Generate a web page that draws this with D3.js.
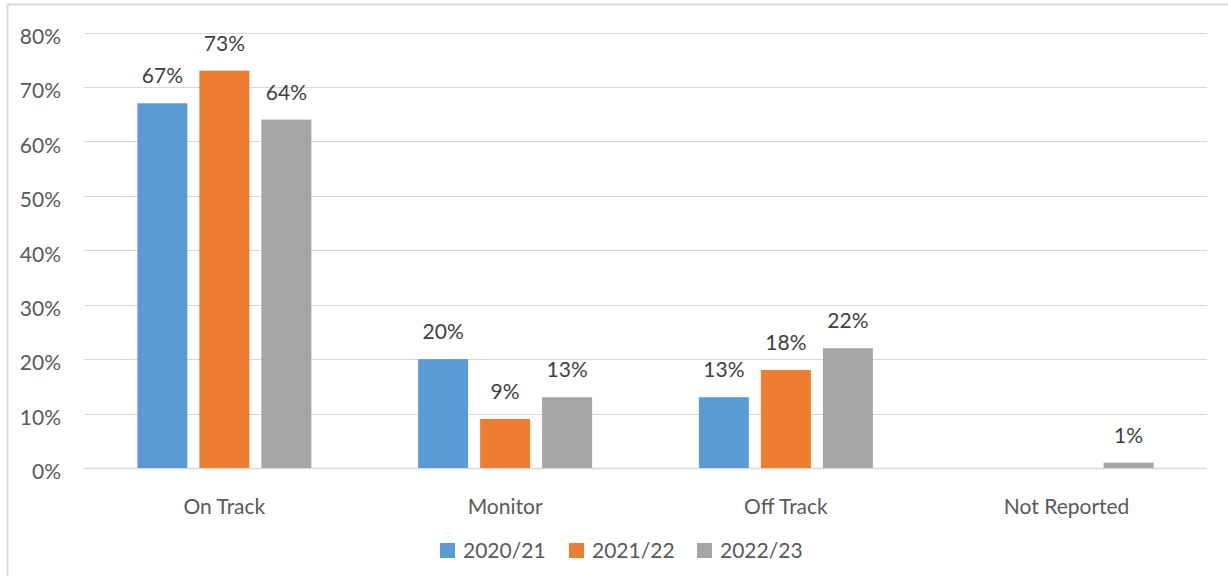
<!DOCTYPE html>
<html>
<head>
<meta charset="utf-8">
<script src="https://cdn.jsdelivr.net/npm/d3@7"></script>
<style>
  body { margin: 0; background: #fff; }
  svg { display: block; font-family: Lato, "Open Sans", sans-serif; }
</style>
</head>
<body>
<svg class="chart"></svg>
<script>
// data
var categories = ["On Track", "Monitor", "Off Track", "Not Reported"];
var seriesNames = ["2020/21", "2021/22", "2022/23"];
var values2020 = [67, 20, 13, 0];
var values2021 = [73, 9, 18, 0];
var values2022 = [64, 13, 22, 1];
var yTicks = [0, 10, 20, 30, 40, 50, 60, 70, 80];
var colors = ["#5B9BD5", "#ED7D31", "#A5A5A5"];

function show() {
    'use strict';
    var width = 1228, height = 576;
    var fontSize = "21px";
    var series = [values2020, values2021, values2022];

    var svg = d3.select(".chart")
        .attr("width", width)
        .attr("height", height);

    // chart border
    svg.append("rect")
        .attr("x", 7.5).attr("y", 4.5)
        .attr("width", width + 20).attr("height", height + 20)
        .attr("fill", "none").attr("stroke", "#d9d9d9").attr("stroke-width", 2);

    var plot = {left: 84, right: 1207, top: 32.5, bottom: 468};

    var y = d3.scaleLinear().domain([0, 80]).range([plot.bottom, plot.top]);
    var x0 = d3.scaleBand().domain(categories).range([plot.left, plot.right]);
    var groupW = 174;
    var x1 = d3.scaleBand().domain(seriesNames)
        .range([(x0.bandwidth() - groupW) / 2, (x0.bandwidth() + groupW) / 2])
        .paddingInner(12 / 62);

    // gridlines
    svg.append("g").selectAll("line").data(yTicks).enter()
        .append("line")
        .attr("x1", plot.left).attr("x2", plot.right)
        .attr("y1", function(d) { return Math.round(y(d)) + 0.5; })
        .attr("y2", function(d) { return Math.round(y(d)) + 0.5; })
        .attr("stroke", "#d9d9d9").attr("stroke-width", function(d) { return d === 0 ? 1.5 : 1.2; });

    // y tick labels
    svg.append("g").selectAll("text").data(yTicks).enter()
        .append("text")
        .attr("x", 61)
        .attr("y", function(d) { return y(d) + 4; })
        .attr("dy", "0.35em")
        .attr("text-anchor", "end")
        .attr("fill", "#595959")
        .attr("font-size", fontSize)
        .text(function(d) { return d + "%"; });

    // bars
    var groups = svg.append("g").selectAll("g").data(categories).enter()
        .append("g")
        .attr("transform", function(d) { return "translate(" + x0(d) + ",0)"; });

    groups.each(function(cat, ci) {
        var g = d3.select(this);
        var rows = seriesNames.map(function(s, si) { return {s: s, si: si, v: series[si][ci]}; });
        g.selectAll("rect").data(rows.filter(function(r) { return r.v > 0; })).enter()
            .append("rect")
            .attr("x", function(r) { return x1(r.s); })
            .attr("width", x1.bandwidth())
            .attr("y", function(r) { return y(r.v); })
            .attr("height", function(r) { return y(0) - y(r.v); })
            .attr("fill", function(r) { return colors[r.si]; });
        g.selectAll("text").data(rows.filter(function(r) { return r.v > 0; })).enter()
            .append("text")
            .attr("x", function(r) { return x1(r.s) + x1.bandwidth() / 2; })
            .attr("y", function(r) { return y(r.v) - 20; })
            .attr("text-anchor", "middle")
            .attr("fill", "#404040")
            .attr("font-size", fontSize)
            .text(function(r) { return r.v + "%"; });
    });

    // category labels
    svg.append("g").selectAll("text").data(categories).enter()
        .append("text")
        .attr("x", function(d) { return x0(d) + x0.bandwidth() / 2; })
        .attr("y", 507)
        .attr("dy", "0.35em")
        .attr("text-anchor", "middle")
        .attr("fill", "#595959")
        .attr("font-size", fontSize)
        .text(function(d) { return d; });

    // legend
    var legendX = [440, 569, 697];
    var legend = svg.append("g").selectAll("g").data(seriesNames).enter()
        .append("g")
        .attr("transform", function(d, i) { return "translate(" + legendX[i] + ",543)"; });
    legend.append("rect")
        .attr("width", 15).attr("height", 15)
        .attr("fill", function(d, i) { return colors[i]; });
    legend.append("text")
        .attr("x", 23).attr("y", 7.5)
        .attr("dy", "0.35em")
        .attr("fill", "#595959")
        .attr("font-size", fontSize)
        .text(function(d) { return d; });
}
show();
</script>
</body>
</html>
